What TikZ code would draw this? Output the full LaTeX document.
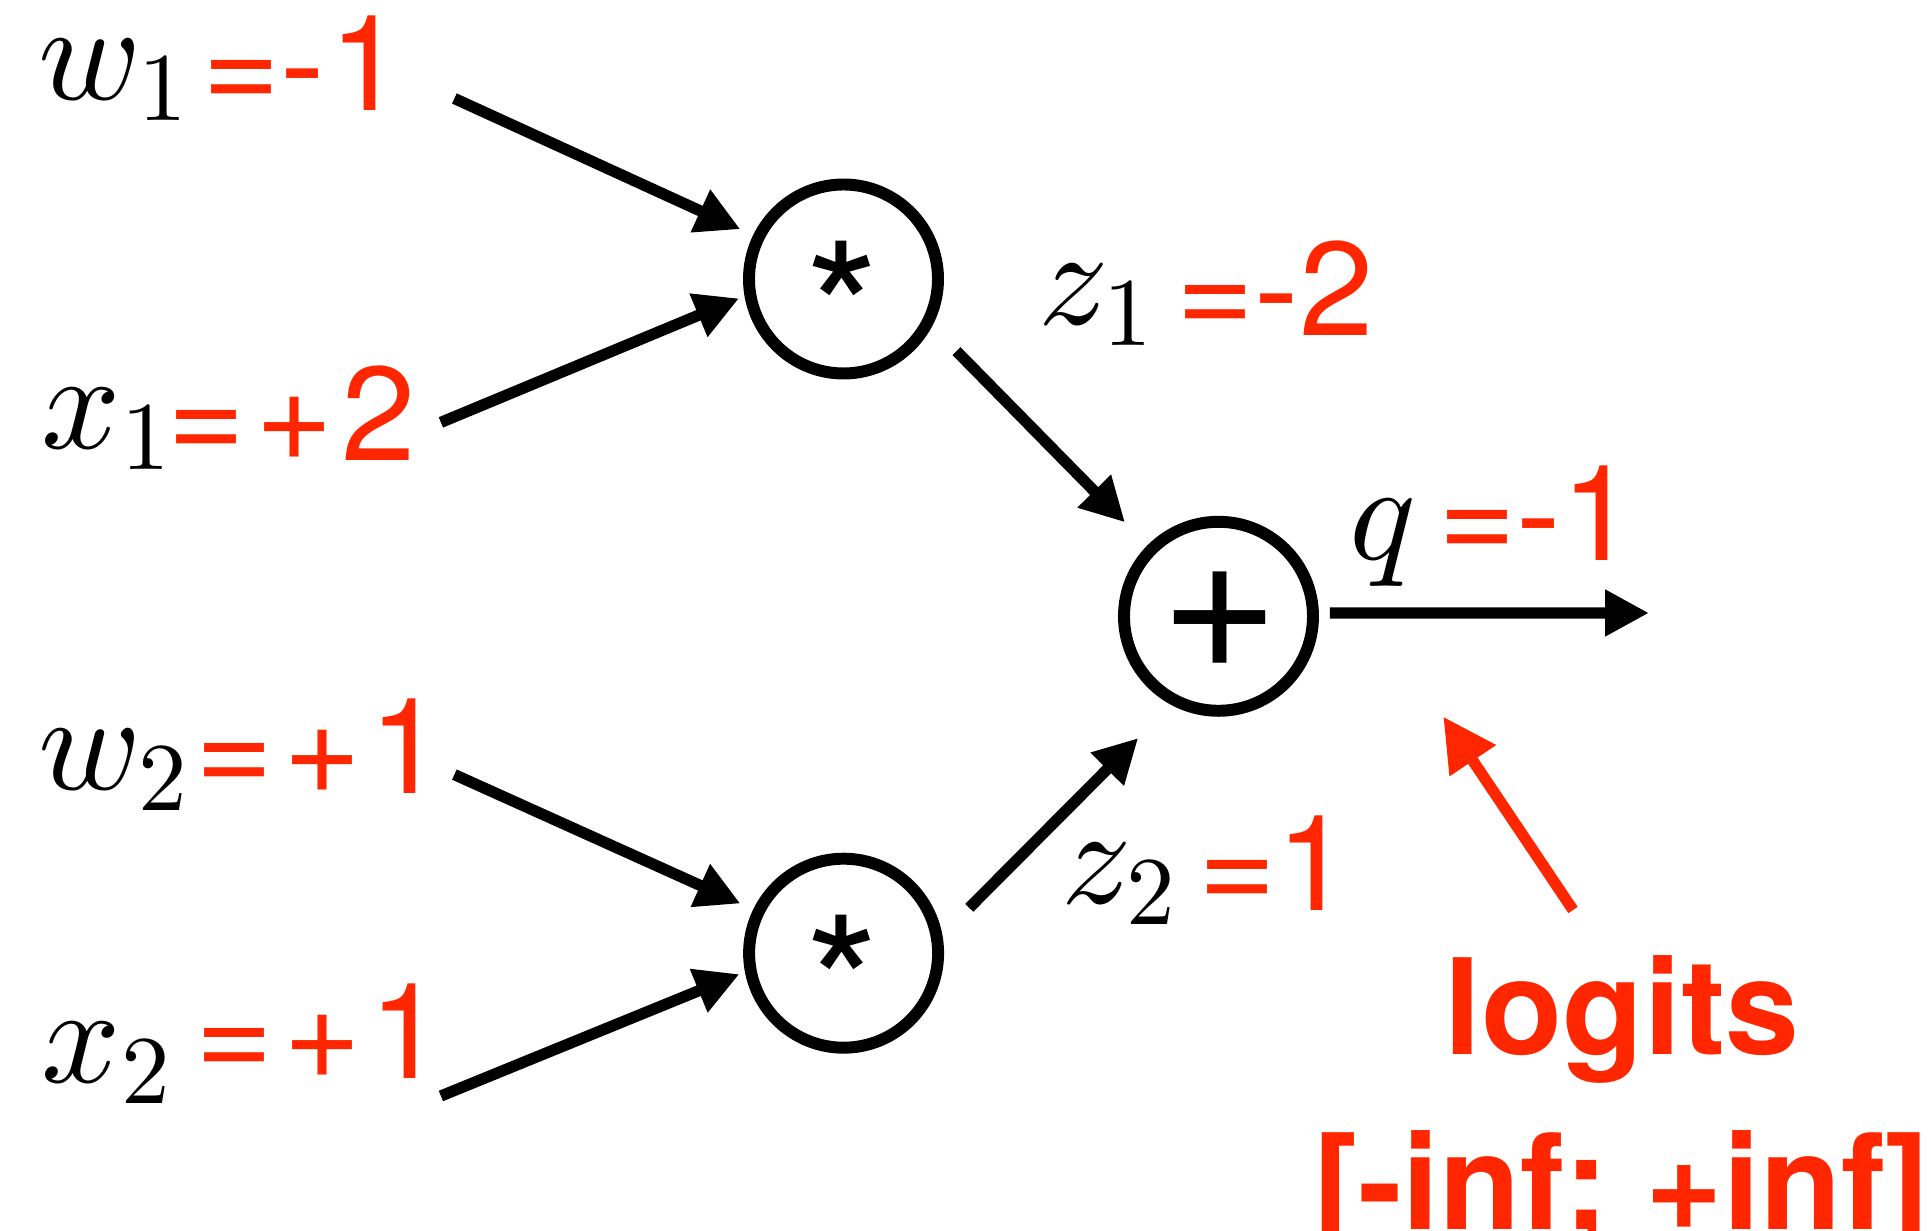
\RequirePackage{fix-cm}
\documentclass[tikz,border=0pt]{standalone}
\usepackage{fontspec}
\newfontfamily\hv{texgyreheros}[Extension=.otf, UprightFont=*-regular, BoldFont=*-bold]
\DeclareFontShape{OML}{cmm}{m}{it}{<->cmmi10}{}
\DeclareFontShape{OT1}{cmr}{m}{n}{<->cmr10}{}
\usepackage{tikz}
\usetikzlibrary{arrows.meta,positioning,calc}
\definecolor{logitred}{RGB}{255,38,0}

\begin{document}
\begin{tikzpicture}[
  opnode/.style={circle, draw, line width=3.4pt, minimum size=1.89cm, inner sep=0pt, outer sep=0pt},
  opsym/.style={inner sep=0pt, font=\hv\fontsize{54}{60}\selectfont},
  varlabel/.style={anchor=base west, inner sep=0pt, font=\fontsize{39.5}{47}\selectfont},
  vallabel/.style={anchor=base west, inner sep=0pt, text=logitred, font=\hv\fontsize{38}{46}\selectfont},
  link/.style={line width=3.2pt, -{Triangle[length=0.44cm,width=0.44cm]}},
  pointer/.style={color=logitred, line width=3.2pt, -{Triangle[length=0.53cm,width=0.53cm]}}
]
\useasboundingbox (0,0) rectangle (19.31,-12.31);

% -------- Operation nodes --------
\node[opnode] (mul1) at (8.435,-2.79) {};
\node[opsym, anchor=base] (mul1sym) at (8.425,-3.80) {*};
\node[opnode] (mul2) at (8.436,-9.532) {};
\node[opsym, anchor=base] (mul2sym) at (8.425,-10.54) {*};
\node[opnode] (plus) at (12.185,-6.163) {};
\node[opsym, font=\hv\fontsize{58}{60}\selectfont] (plussym) at (12.20,-6.20) {+};

% -------- Inputs and weights --------
\node[varlabel] (w1) at (0.38,-1.00) {$w_1$};
\node[vallabel] (w1val) at (2.02,-1.11) {=-\kern.03em1};
\node[varlabel] (x1) at (0.41,-4.49) {$x_1$};
\node[vallabel] (x1val) at (1.67,-4.61) {=\kern.075em+\kern.06em2};
\node[varlabel] (w2) at (0.38,-7.90) {$w_2$};
\node[vallabel] (w2val) at (1.95,-7.94) {=\kern.075em+\kern.06em1};
\node[varlabel] (x2) at (0.41,-10.83) {$x_2$};
\node[vallabel] (x2val) at (1.95,-10.79) {=\kern.075em+\kern.06em1};

% -------- Intermediate values --------
\node[varlabel] (z1) at (10.38,-3.25) {$z_1$};
\node[vallabel] (z1val) at (11.76,-3.36) {=-2};
\node[varlabel] (z2) at (10.61,-9.04) {$z_2$};
\node[vallabel] (z2val) at (11.98,-9.11) {=1};
\node[varlabel] (q) at (13.49,-5.60) {$q$};
\node[vallabel] (qval) at (14.38,-5.61) {=-1};

% -------- Annotation --------
\node[anchor=north, align=center, inner sep=0pt, text=logitred,
  font=\hv\bfseries\fontsize{37.8}{49.6}\selectfont] (logits) at (16.22,-9.55)
  {logits\\{[}-inf; +inf]};

% -------- Connectors --------
\coordinate (w1tail) at (4.544,-0.985);
\coordinate (x1tail) at (4.409,-4.224);
\coordinate (w2tail) at (4.544,-7.746);
\coordinate (x2tail) at (4.409,-10.96);
\coordinate (qend) at (16.49,-6.13);
\coordinate (logitstail) at (15.73,-9.10);
\coordinate (logitstip) at (14.433,-7.167);

\draw[link, shorten >=0.20cm] (w1tail) -- (mul1.154);
\draw[link, shorten >=0.12cm] (x1tail) -- (mul1.189);
\draw[link, shorten >=0.20cm] (w2tail) -- (mul2.154);
\draw[link, shorten >=0.12cm] (x2tail) -- (mul2.190);
\draw[link, shorten <=0.41cm, shorten >=0.38cm] (mul1.-27) -- (plus.135);
\draw[link, shorten <=0.455cm, shorten >=0.53cm] (mul2.8) -- (plus.243);
\draw[link, shorten <=0.17cm] (plus.2) -- (qend);
\draw[pointer] (logitstail) -- (logitstip);

\end{tikzpicture}
\end{document}
